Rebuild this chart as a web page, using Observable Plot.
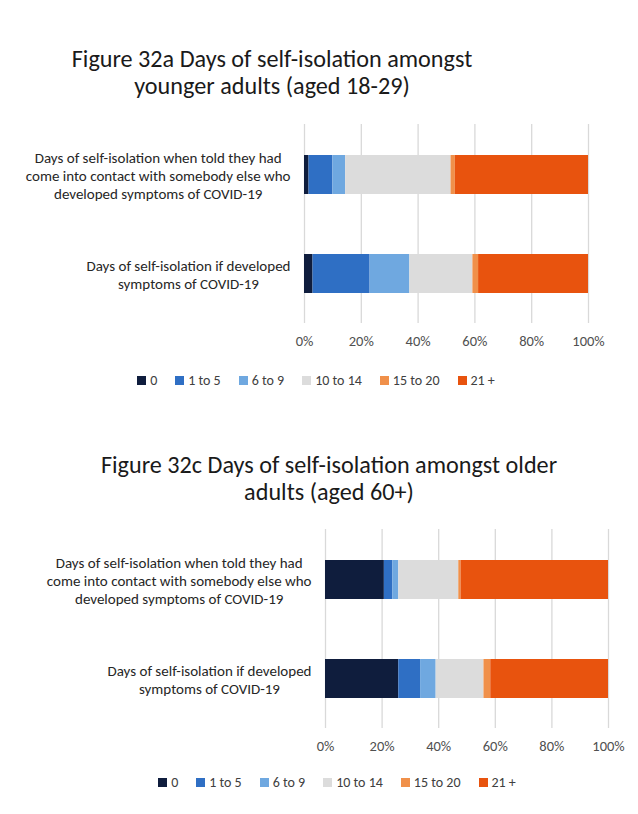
<!DOCTYPE html>
<html><head><meta charset="utf-8">
<script src="https://cdn.jsdelivr.net/npm/d3@7"></script>
<script src="https://cdn.jsdelivr.net/npm/@observablehq/plot@0.6"></script>
<style>
html,body{margin:0;padding:0;background:#fff;}
body{width:638px;height:814px;position:relative;overflow:hidden;font-family:Carlito,Calibri,Lato,sans-serif;}
.title{position:absolute;width:600px;text-align:center;font-size:24.2px;line-height:27px;color:#1a1a1a;}
.chart{position:absolute;left:0;}
.lgwrap{position:absolute;width:600px;display:flex;justify-content:center;}
.lg-swatch{margin-right:18px !important;font-size:14px;color:#404040;}
.lg-swatch:last-child{margin-right:0 !important;}
.lg-swatch > svg{margin-right:4px !important;}
</style></head><body>
<script>
const categories = ["0", "1 to 5", "6 to 9", "10 to 14", "15 to 20", "21 +"];
const colors = ["#0f1d3d", "#2f6fc4", "#6fa8e0", "#dcdcdc", "#f0904a", "#e8530e"];
const questions = [
  "Days of self-isolation when told they had\ncome into contact with somebody else who\ndeveloped symptoms of COVID-19",
  "Days of self-isolation if developed\nsymptoms of COVID-19"
];
const xTicks = [0, 20, 40, 60, 80, 100];

// Figure 32a: younger adults (aged 18-29), % per category
const youngerContact   = [1.6, 8.4, 4.5, 37.1, 1.5, 46.9];
const youngerDeveloped = [3.0, 20.1, 14.0, 22.2, 2.0, 38.7];
// Figure 32c: older adults (aged 60+), % per category
const olderContact     = [20.8, 3.0, 2.1, 21.2, 0.8, 52.1];
const olderDeveloped   = [25.9, 7.7, 5.5, 16.9, 2.4, 41.6];

const titleA = ["Figure 32a Days of self-isolation amongst", "younger adults (aged 18-29)"];
const titleC = ["Figure 32c Days of self-isolation amongst older", "adults (aged 60+)"];

const FONT = "Carlito, Calibri, Lato, sans-serif";
const LABEL_SIZE = 15;

function textWidth(s, size) {
  const c = textWidth.c || (textWidth.c = document.createElement("canvas").getContext("2d"));
  c.font = `${size}px ${FONT}`;
  return c.measureText(s).width;
}

function makeChart(cfg) {
  const {title, series, top, titleTop, titleCenter, marginLeft, marginRight, legendTop, legendCenter} = cfg;
  const t = document.createElement("div");
  t.className = "title";
  t.style.top = titleTop + "px";
  t.style.left = (titleCenter - 300) + "px";
  t.innerHTML = title.join("<br>");
  document.body.appendChild(t);

  const data = [];
  questions.forEach((q, i) => categories.forEach((c, j) => data.push({question: q, category: c, value: series[i][j]})));

  const labelMarks = questions.map(q => {
    const w = Math.max(...q.split("\n").map(l => textWidth(l, LABEL_SIZE)));
    return Plot.text([q], {
      y: d => d, frameAnchor: "left", text: d => d,
      textAnchor: "middle", dx: -(14 + w / 2), lineHeight: 1.2,
      fontSize: LABEL_SIZE, fill: "#262626"
    });
  });

  const chart = Plot.plot({
    width: 638,
    height: 255,
    marginTop: 14,
    marginBottom: 42,
    marginLeft,
    marginRight,
    style: {fontFamily: FONT, fontSize: "14.5px", color: "#505050", background: "transparent"},
    x: {domain: [0, 100], ticks: xTicks, tickFormat: d => d + "%", tickSize: 0, tickPadding: 12, label: null},
    y: {domain: questions, paddingInner: 0.61, paddingOuter: 0.3, axis: null},
    color: {domain: categories, range: colors},
    marks: [
      Plot.ruleX(xTicks, {stroke: "#d9d9d9", strokeWidth: 1.3}),
      Plot.barX(data, Plot.stackX({y: "question", x: "value", fill: "category"})),
      ...labelMarks
    ]
  });
  chart.classList.add("chart");
  chart.style.top = top + "px";
  document.body.appendChild(chart);

  const lw = document.createElement("div");
  lw.className = "lgwrap";
  lw.style.top = legendTop + "px";
  lw.style.left = (legendCenter - 300) + "px";
  const lg = Plot.legend({color: {type: "ordinal", domain: categories, range: colors}, legend: "swatches", swatchSize: 9, className: "lg", style: {fontFamily: FONT, fontSize: "14px", color: "#404040"}});
  lw.appendChild(lg);
  document.body.appendChild(lw);
}

makeChart({title: titleA, series: [youngerContact, youngerDeveloped], top: 110, titleTop: 45, titleCenter: 272,
  marginLeft: 304, marginRight: 50, legendTop: 364, legendCenter: 316});
makeChart({title: titleC, series: [olderContact, olderDeveloped], top: 515, titleTop: 451, titleCenter: 329,
  marginLeft: 325, marginRight: 30, legendTop: 766, legendCenter: 337});
</script>
</body></html>
